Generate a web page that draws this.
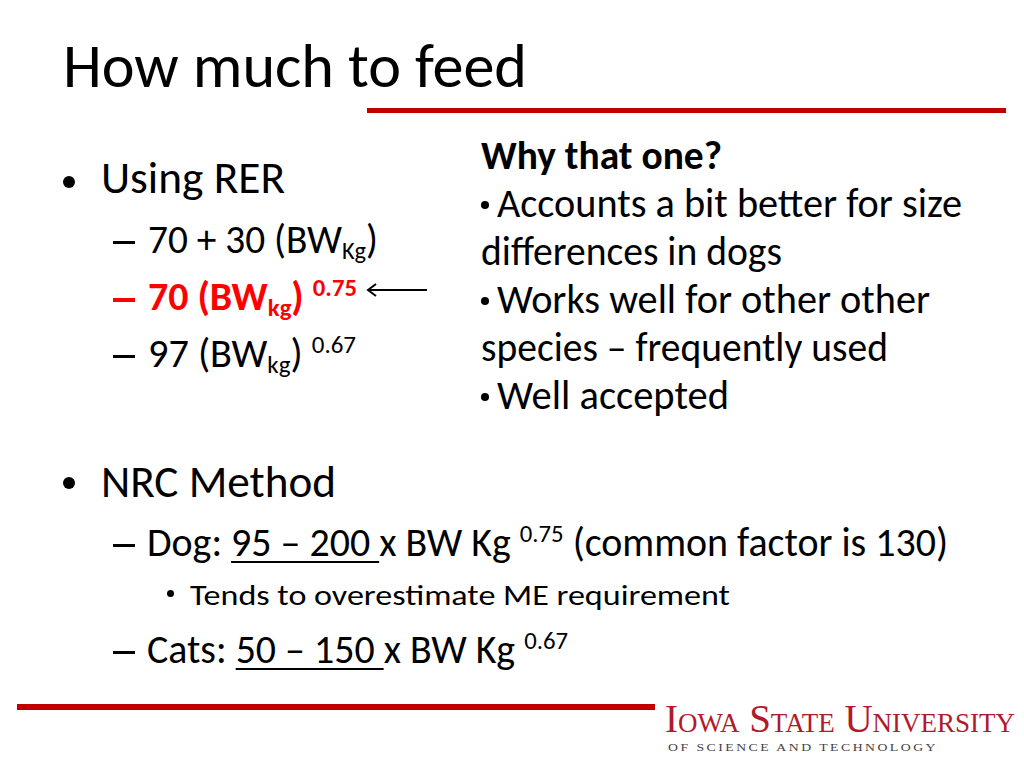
<!DOCTYPE html>
<html>
<head>
<meta charset="utf-8">
<script src="https://cdn.jsdelivr.net/npm/chart.js@4.4.1/dist/chart.umd.min.js"></script>
<style>
  html, body { margin: 0; padding: 0; background: #fff; }
  #slide { position: relative; width: 1024px; height: 768px; overflow: hidden; font-family: Calibri, Carlito, Lato, "Open Sans", sans-serif; color: #000; }
  .t { position: absolute; white-space: nowrap; line-height: 1; transform-origin: 0 0; }
  .rule { position: absolute; background: #c00000; }
  .dot { position: absolute; border-radius: 50%; background: #000; }
  .dash { position: absolute; background: #000; }
  sub { font-size: 0.62em; vertical-align: -0.25em; line-height: 0; }
  sup { font-size: 0.62em; vertical-align: 0.55em; line-height: 0; }
  .u { text-decoration: underline; text-decoration-thickness: 2px; text-underline-offset: 5px; }
  .logo1 { font-family: "Liberation Serif", "DejaVu Serif", serif; color: #b3192b; font-variant: small-caps; line-height: 0.72; }
  .logo2 { font-family: "Liberation Serif", "DejaVu Serif", serif; color: #444; letter-spacing: 2px; line-height: 0.75; }
</style>
</head>
<body>
<div id="slide">
  <div class="rule" style="left:367px; top:108px; width:639px; height:5px;"></div>
  <div class="rule" style="left:17px; top:704px; width:638px; height:6px;"></div>

  <div class="t" data-b="87" data-w="464" style="left:63px; font-size:62px;">How much to feed</div>

  <div class="dot" style="left:63px; top:176px; width:12px; height:12px;"></div>
  <div class="t" data-b="193" data-w="184" style="left:101px; font-size:45px;">Using RER</div>

  <div class="dash" style="left:113px; top:241px; width:22px; height:3px;"></div>
  <div class="t" data-b="253" data-w="230" style="left:148px; font-size:40px;">70 + 30 (BW<sub>Kg</sub>)</div>
  <div class="dash" style="left:113px; top:298px; width:22px; height:4px; background:#ff0000;"></div>
  <div class="t" data-b="310" data-w="209" style="left:148px; font-size:40px; color:#ff0000; font-weight:bold;">70 (BW<sub>kg</sub>) <sup>0.75</sup></div>
  <div class="dash" style="left:113px; top:355px; width:22px; height:3px;"></div>
  <div class="t" data-b="367" data-w="208" style="left:148px; font-size:40px;">97 (BW<sub>kg</sub>) <sup>0.67</sup></div>

  <svg style="position:absolute; left:364px; top:282px;" width="66" height="16">
    <line x1="4" y1="8" x2="63" y2="8" stroke="#000" stroke-width="2"/>
    <polyline points="12,2 4,8 12,14" fill="none" stroke="#000" stroke-width="2"/>
  </svg>

  <div class="t" data-b="169" data-w="241" style="left:481px; font-size:40px; font-weight:bold;">Why that one?</div>
  <div class="dot" style="left:481px; top:201px; width:8px; height:8px;"></div>
  <div class="t" data-b="217" data-w="465" style="left:497px; font-size:40px;">Accounts a bit better for size</div>
  <div class="t" data-b="265" data-w="301" style="left:481px; font-size:40px;">differences in dogs</div>
  <div class="dot" style="left:481px; top:297px; width:8px; height:8px;"></div>
  <div class="t" data-b="313" data-w="433" style="left:497px; font-size:40px;">Works well for other other</div>
  <div class="t" data-b="361" data-w="407" style="left:481px; font-size:40px;">species – frequently used</div>
  <div class="dot" style="left:481px; top:393px; width:8px; height:8px;"></div>
  <div class="t" data-b="409" data-w="232" style="left:497px; font-size:40px;">Well accepted</div>

  <div class="dot" style="left:63px; top:477px; width:12px; height:12px;"></div>
  <div class="t" data-b="497" data-w="235" style="left:101px; font-size:45px;">NRC Method</div>

  <div class="dash" style="left:113px; top:544px; width:22px; height:3px;"></div>
  <div class="t" data-b="556" data-w="801" style="left:147px; font-size:40px;">Dog: <span class="u">95 – 200 </span>x BW Kg <sup>0.75</sup> (common factor is 130)</div>
  <div class="dot" style="left:167px; top:590px; width:7px; height:7px;"></div>
  <div class="t" data-b="605" data-w="540" style="left:190px; font-size:28px;">Tends to overestimate ME requirement</div>
  <div class="dash" style="left:113px; top:651px; width:22px; height:3px;"></div>
  <div class="t" data-b="663" data-w="421" style="left:147px; font-size:40px;">Cats: <span class="u">50 – 150 </span>x BW Kg <sup>0.67</sup></div>

  <div class="t logo1" data-b="732" data-w="350" style="left:665px; font-size:39px;">Iowa State University</div>
  <div class="t logo2" data-b="751" data-w="270" style="left:668px; font-size:11px;">OF SCIENCE AND TECHNOLOGY</div>
</div>
<script>
// place each line by its baseline and squeeze it to the width seen on the slide
function layout() {
  var items = document.querySelectorAll('#slide .t');
  items.forEach(function (el) {
    var probe = document.createElement('span');
    probe.style.display = 'inline-block';
    probe.style.width = '1px';
    probe.style.height = '0px';
    probe.style.verticalAlign = 'baseline';
    el.appendChild(probe);
    var off = probe.getBoundingClientRect().top - el.getBoundingClientRect().top;
    el.removeChild(probe);
    el.style.top = (parseFloat(el.dataset.b) - off) + 'px';
    if (el.dataset.w) {
      var w = el.getBoundingClientRect().width;
      el.style.transform = 'scaleX(' + (parseFloat(el.dataset.w) / w) + ')';
    }
  });
}
if (document.fonts && document.fonts.ready) {
  document.fonts.ready.then(layout);
} else {
  layout();
}
</script>
</body>
</html>
